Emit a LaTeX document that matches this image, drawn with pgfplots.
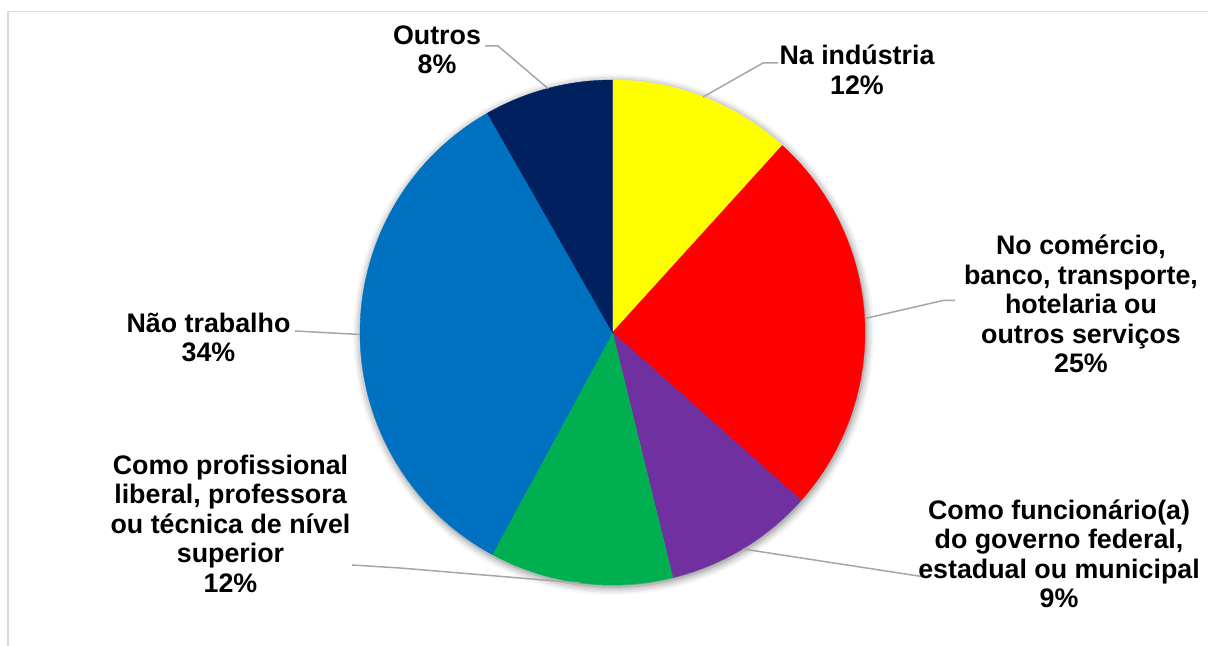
\documentclass[border=0pt]{standalone}
\usepackage{fontspec}
\setmainfont{Liberation Sans}
\usepackage{pgfplots}
\pgfplotsset{compat=1.18}
\usetikzlibrary{shadows.blur}
\definecolor{cYel}{HTML}{FFFF00}
\definecolor{cRed}{HTML}{FF0000}
\definecolor{cPur}{HTML}{7030A0}
\definecolor{cGrn}{HTML}{00B050}
\definecolor{cBlu}{HTML}{0070C0}
\definecolor{cNav}{HTML}{002060}
\definecolor{leader}{HTML}{A6A6A6}
\definecolor{frame}{HTML}{D9D9D9}
% shares (percent), clockwise from 12 o'clock
\def\vA{11.73}% Na industria
\def\vB{24.84}% No comercio
\def\vC{9.59}%  Funcionario
\def\vD{11.75}% Profissional liberal
\def\vE{33.84}% Nao trabalho
\def\vF{8.25}%  Outros
\begin{document}
\begin{tikzpicture}
\useasboundingbox (0,0) rectangle (1208bp,646bp);
\pgfmathsetmacro\aA{90}
\pgfmathsetmacro\aB{\aA-3.6*\vA}
\pgfmathsetmacro\aC{\aB-3.6*\vB}
\pgfmathsetmacro\aD{\aC-3.6*\vC}
\pgfmathsetmacro\aE{\aD-3.6*\vD}
\pgfmathsetmacro\aF{\aE-3.6*\vE}
\pgfmathsetmacro\aG{\aF-3.6*\vF}
\begin{axis}[width=1208bp, height=646bp, scale only axis,
  xmin=0, xmax=1208, ymin=0, ymax=646, hide axis, clip=false,
  every axis plot/.append style={line join=round}]
% frame
\addplot[frame, line width=1.5bp] coordinates {(8,-10) (8,634.5) (1220,634.5)};
% shadow
\addplot[draw=none, fill=white, domain=0:360, samples=180,
  blur shadow={shadow xshift=1bp, shadow yshift=-2bp, shadow blur radius=8bp, shadow opacity=55}]
  ({612.5+252.5*cos(x)},{313.5+252.5*sin(x)}) -- cycle;
% slices
\addplot[fill=cYel, draw=cYel, line width=0.4bp, domain=\aB:\aA, samples=60]
  ({612.5+252.5*cos(x)},{313.5+252.5*sin(x)}) -- (axis cs:612.5,313.5) -- cycle;
\addplot[fill=cRed, draw=cRed, line width=0.4bp, domain=\aC:\aB, samples=90]
  ({612.5+252.5*cos(x)},{313.5+252.5*sin(x)}) -- (axis cs:612.5,313.5) -- cycle;
\addplot[fill=cPur, draw=cPur, line width=0.4bp, domain=\aD:\aC, samples=50]
  ({612.5+252.5*cos(x)},{313.5+252.5*sin(x)}) -- (axis cs:612.5,313.5) -- cycle;
\addplot[fill=cGrn, draw=cGrn, line width=0.4bp, domain=\aE:\aD, samples=60]
  ({612.5+252.5*cos(x)},{313.5+252.5*sin(x)}) -- (axis cs:612.5,313.5) -- cycle;
\addplot[fill=cBlu, draw=cBlu, line width=0.4bp, domain=\aF:\aE, samples=120]
  ({612.5+252.5*cos(x)},{313.5+252.5*sin(x)}) -- (axis cs:612.5,313.5) -- cycle;
\addplot[fill=cNav, draw=cNav, line width=0.4bp, domain=\aG:\aF, samples=40]
  ({612.5+252.5*cos(x)},{313.5+252.5*sin(x)}) -- (axis cs:612.5,313.5) -- cycle;
% leader lines
\addplot[leader, line width=1.5bp] coordinates {(485,600) (498,600) (548,557.5)};
\addplot[leader, line width=1.5bp] coordinates {(778,583) (763,583) (703,549)};
\addplot[leader, line width=1.5bp] coordinates {(955,345.5) (943,345.5) (865,327.5)};
\addplot[leader, line width=1.5bp] coordinates {(743,97) (925,69)};
\addplot[leader, line width=1.5bp] coordinates {(580,63) (400,78) (352,81)};
\addplot[leader, line width=1.5bp] coordinates {(295,315) (360,311.5)};
% labels
\tikzset{lab/.style={align=center, inner sep=0pt, text=black,
  font=\fontsize{26.8bp}{29.5bp}\selectfont\bfseries}}
\node[lab] at (axis cs:437,596) {Outros\\8\%};
\node[lab] at (axis cs:857,576) {Na indústria\\12\%};
\node[lab] at (axis cs:1081,342) {No comércio,\\banco, transporte,\\hotelaria ou\\outros serviços\\25\%};
\node[lab] at (axis cs:1059,92) {Como funcionário(a)\\do governo federal,\\estadual ou municipal\\9\%};
\node[lab] at (axis cs:230.5,122.5) {Como profissional\\liberal, professora\\ou técnica de nível\\superior\\12\%};
\node[lab] at (axis cs:208.5,308.5) {Não trabalho\\34\%};
\end{axis}
\end{tikzpicture}
\end{document}
